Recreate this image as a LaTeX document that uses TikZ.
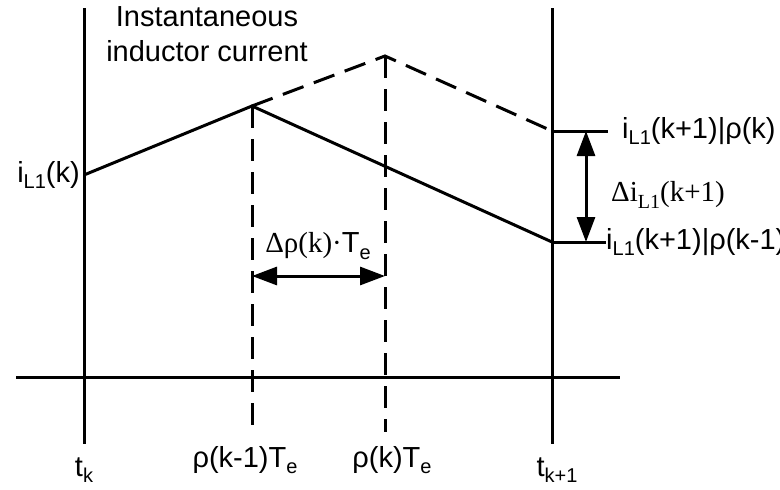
\documentclass[tikz,border=0pt]{standalone}
\usepackage{fontspec}
\setmainfont{Liberation Sans}
\newfontfamily\timesfont{Liberation Serif}
\usetikzlibrary{arrows.meta}
\newcommand{\lowtxt}[1]{\raisebox{-0.22em}{\fontsize{20}{20}\selectfont #1}}

\begin{document}
\begin{tikzpicture}[x=1pt, y=-1pt,
    every node/.style={font=\fontsize{29}{35}\selectfont, inner sep=0pt},
    thickline/.style={line width=3pt},
    dashline/.style={line width=3pt, dash pattern=on 22pt off 11pt},
    dimarrow/.style={line width=3pt, {Triangle[length=25pt,width=18pt]}-{Triangle[length=25pt,width=18pt]}},
]
\useasboundingbox (0,0) rectangle (780,490);
% time axis and sampling instants
\coordinate (axL) at (16,377); \coordinate (axR) at (620,377);
\coordinate (tkT) at (84,8); \coordinate (tkB) at (84,444);
\coordinate (tnT) at (552,8); \coordinate (tnB) at (552,444);
\draw[thickline] (axL) -- (axR);
\draw[thickline] (tkT) -- (tkB);
\draw[thickline] (tnT) -- (tnB);
% current waveform
\coordinate (ik) at (84,175);
\coordinate (turnA) at (252,106);
\coordinate (turnB) at (385,56);
\coordinate (endLow) at (552,242);
\coordinate (endHigh) at (552,131);
\draw[thickline] (ik) -- (turnA) -- (endLow);
\draw[dashline] (turnA) -- (turnB) -- (endHigh);
% switching instants
\coordinate (footA) at (252,425); \coordinate (footB) at (385,432);
\draw[dashline] (turnA) -- (footA);
\draw[dashline] (turnB) -- (footB);
% delay between the instants
\coordinate (dA) at (252,276); \coordinate (dB) at (385,276);
\draw[dimarrow] (dA) -- (dB);
% current difference at t_{k+1}
\coordinate (tickHigh) at (608,131); \coordinate (tickLow) at (606,242);
\draw[thickline] (endHigh) -- (tickHigh);
\draw[thickline] (endLow) -- (tickLow);
\coordinate (diT) at (586,131); \coordinate (diB) at (586,242);
\draw[dimarrow] (diT) -- (diB);
% labels
\node[align=center] (title) at (207,34) {Instantaneous\\inductor current};
\node[anchor=east] (lblik) at (80,175) {i\lowtxt{L1}(k)};
\node (lbldelay) at (318,246) {{\timesfont Δρ(k)·}T\lowtxt{e}};
\node (lblA) at (245,460) {ρ(k-1)T\lowtxt{e}};
\node (lblB) at (392,460) {ρ(k)T\lowtxt{e}};
\node (lbltk) at (84,470) {t\lowtxt{k}};
\node (lbltn) at (557,470) {t\lowtxt{k+1}};
\node[anchor=west] (lblhigh) at (622,131) {i\lowtxt{L1}(k+1)|ρ(k)};
\node[anchor=west, font=\timesfont\fontsize{29}{30}\selectfont] (lbldi) at (611,195) {Δi\lowtxt{L1}(k+1)};
\node[anchor=west] (lbllow) at (606,242) {i\lowtxt{L1}(k+1)|ρ(k-1)};
\end{tikzpicture}
\end{document}
